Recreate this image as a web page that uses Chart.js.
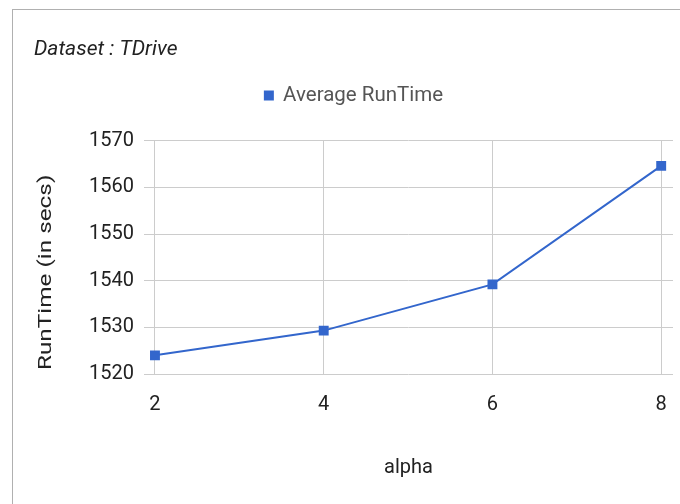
<!DOCTYPE html>
<html>
<head>
<meta charset="utf-8">
<script src="https://cdn.jsdelivr.net/npm/chart.js@4/dist/chart.umd.min.js"></script>
<style>
  html, body { margin: 0; padding: 0; background: #fff; }
  #wrap { position: relative; width: 680px; height: 504px; overflow: hidden; }
  #frame { position: absolute; left: 12px; top: 9px; right: -2px; bottom: -2px;
           border-left: 1px solid #b0b0b0; border-top: 1px solid #b0b0b0; }
  #c { position: absolute; left: 0; top: 0; }
</style>
</head>
<body>
<div id="wrap">
  <div id="frame"></div>
  <canvas id="c" width="680" height="504"></canvas>
</div>
<script>
// alpha values on the x axis and the measured average run time (seconds)
const alphaValues = [2, 4, 6, 8];
const runTimes = [1524.0, 1529.3, 1539.2, 1564.6];
const xTickValues = [2, 4, 6, 8];
const yTickRange = { min: 1520, max: 1570, step: 10 };

const chartTitle = 'Dataset : TDrive';
const seriesName = 'Average RunTime';
const xAxisTitle = 'alpha';
const yAxisTitle = 'RunTime (in secs)';

const BLUE = '#3366cc';
const FONT = 'Roboto';

// extra room under the legend before the plot starts
const legendSpacer = {
  id: 'legendSpacer',
  beforeInit(chart) {
    const fit = chart.legend.fit;
    chart.legend.fit = function () {
      fit.bind(chart.legend)();
      this.height += 25;
    };
  }
};

// rotated y-axis title placed beside the plot, drawn in a tall narrow face
const yTitlePlugin = {
  id: 'yTitle',
  afterDraw(chart) {
    const { ctx, chartArea } = chart;
    ctx.save();
    ctx.translate(46, (chartArea.top + chartArea.bottom) / 2 + 15);
    ctx.rotate(-Math.PI / 2);
    ctx.scale(1.28, 1);
    ctx.font = '19px ' + FONT;
    ctx.fillStyle = '#222';
    ctx.textAlign = 'center';
    ctx.textBaseline = 'middle';
    ctx.fillText(yAxisTitle, 0, 0);
    ctx.restore();
  }
};

new Chart(document.getElementById('c'), {
  type: 'line',
  data: {
    datasets: [{
      label: seriesName,
      data: alphaValues.map((a, i) => ({ x: a, y: runTimes[i] })),
      borderColor: BLUE,
      backgroundColor: BLUE,
      borderWidth: 2,
      pointStyle: 'rect',
      pointRadius: 7,
      pointHoverRadius: 7,
      pointBorderWidth: 0,
      pointBackgroundColor: BLUE,
      tension: 0,
      fill: false
    }]
  },
  options: {
    responsive: false,
    animation: false,
    events: [],
    layout: { padding: { left: 34, right: 6, top: 0, bottom: 0 } },
    plugins: {
      title: {
        display: true,
        text: chartTitle,
        align: 'start',
        color: '#222',
        font: { family: FONT, size: 21, style: 'italic', weight: 'normal' },
        padding: { top: 37, bottom: 13 }
      },
      legend: {
        display: true,
        position: 'top',
        labels: {
          boxWidth: 8,
          boxHeight: 8,
          color: '#555',
          font: { family: FONT, size: 20.5 },
          padding: 10
        }
      },
      tooltip: { enabled: false }
    },
    scales: {
      x: {
        type: 'linear',
        min: 1.87,
        max: 8.14,
        afterBuildTicks(scale) {
          scale.ticks = xTickValues.map(v => ({ value: v }));
        },
        afterFit(scale) {
          scale.height = 130;
          scale.paddingLeft = 0;
          scale.paddingRight = 0;
        },
        grid: { color: '#cccccc', lineWidth: 1, drawTicks: false },
        border: { display: false },
        ticks: {
          color: '#222',
          font: { family: FONT, size: 20 },
          padding: 19,
          maxRotation: 0,
          callback: v => String(v)
        },
        title: {
          display: true,
          text: xAxisTitle,
          color: '#222',
          font: { family: FONT, size: 20 },
          padding: { top: 0, bottom: 24 }
        }
      },
      y: {
        min: yTickRange.min,
        max: yTickRange.max,
        afterFit(scale) { scale.width = 110; },
        grid: { color: '#cccccc', lineWidth: 1, drawTicks: false },
        border: { display: false },
        ticks: {
          stepSize: yTickRange.step,
          color: '#222',
          font: { family: FONT, size: 20 },
          padding: 10,
          callback: v => String(v)
        }
      }
    }
  },
  plugins: [legendSpacer, yTitlePlugin]
});
</script>
</body>
</html>
